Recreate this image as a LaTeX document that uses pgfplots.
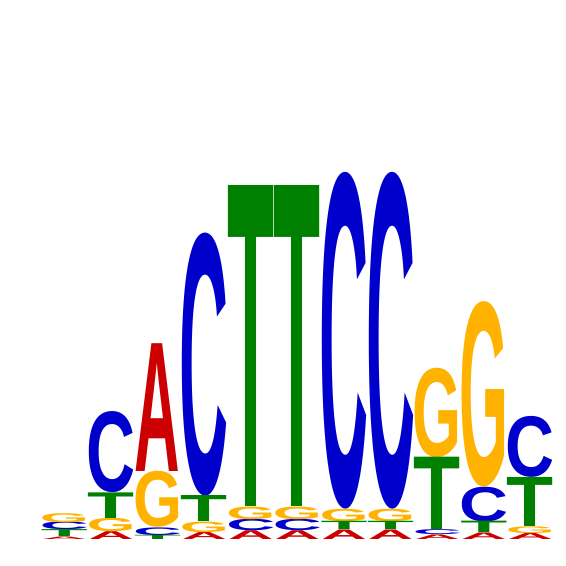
\documentclass[border=0pt]{standalone}
\usepackage{fontspec}
\setmainfont{Liberation Sans}
\usepackage{graphicx}
\usepackage{pgfplots}
\pgfplotsset{compat=1.18}
\usepackage{pgfplotstable}

\definecolor{colA}{RGB}{204,0,0}
\definecolor{colC}{RGB}{0,0,204}
\definecolor{colG}{RGB}{255,179,0}
\definecolor{colT}{RGB}{0,128,0}

% x = position, y = bottom of letter (bits), h = letter height (bits)
\pgfplotstableread{
x y h
1 0 0.014
2 0 0.043
3 0.371 0.698
4 0 0.039
5 0 0.048
6 0 0.048
7 0 0.052
8 0 0.052
9 0 0.025
10 0 0.036
11 0 0.033
}\tabA
\pgfplotstableread{
x y h
1 0.052 0.042
2 0.256 0.443
3 0.023 0.042
4 0.239 1.434
5 0.048 0.062
6 0.048 0.062
7 0.165 1.836
8 0.165 1.836
9 0.025 0.027
10 0.098 0.190
11 0.338 0.333
}\tabC
\pgfplotstableread{
x y h
1 0.094 0.049
2 0.043 0.073
3 0.065 0.306
4 0.039 0.058
5 0.110 0.069
6 0.110 0.069
7 0.097 0.068
8 0.097 0.068
9 0.447 0.489
10 0.288 1.013
11 0.033 0.037
}\tabG
\pgfplotstableread{
x y h
1 0.014 0.038
2 0.116 0.140
3 0 0.023
4 0.097 0.142
5 0.179 1.753
6 0.179 1.753
7 0.052 0.045
8 0.052 0.045
9 0.052 0.395
10 0.036 0.062
11 0.070 0.268
}\tabT

% one plot mark per base: the glyph stretched to the letter's height
\newcommand\logomark[3]{%
  \pgfmathsetlengthmacro\hh{\h*183pt}%
  \pgftext[bottom]{\color{#2}\resizebox*{#3}{\hh}{\bfseries #1}}}
\pgfdeclareplotmark{logoA}{\logomark{A}{colA}{45.5pt}}
\pgfdeclareplotmark{logoC}{\logomark{C}{colC}{49pt}}
\pgfdeclareplotmark{logoG}{\logomark{G}{colG}{49pt}}
\pgfdeclareplotmark{logoT}{\logomark{T}{colT}{47pt}}

\pgfplotsset{
  letter/.style={
    only marks, mark=#1,
    visualization depends on={\thisrow{h}\as\h},
  },
}

\begin{document}
\begin{tikzpicture}
\begin{axis}[
  x=46.6pt, y=183pt,
  xmin=-0.384, xmax=11.762,
  ymin=-0.1448, ymax=2.948,
  hide axis, clip=false,
]
\path (rel axis cs:0,0) rectangle (rel axis cs:1,1);
\addplot[letter=logoA] table[x=x, y=y] {\tabA};
\addplot[letter=logoC] table[x=x, y=y] {\tabC};
\addplot[letter=logoG] table[x=x, y=y] {\tabG};
\addplot[letter=logoT] table[x=x, y=y] {\tabT};
\end{axis}
\end{tikzpicture}
\end{document}
